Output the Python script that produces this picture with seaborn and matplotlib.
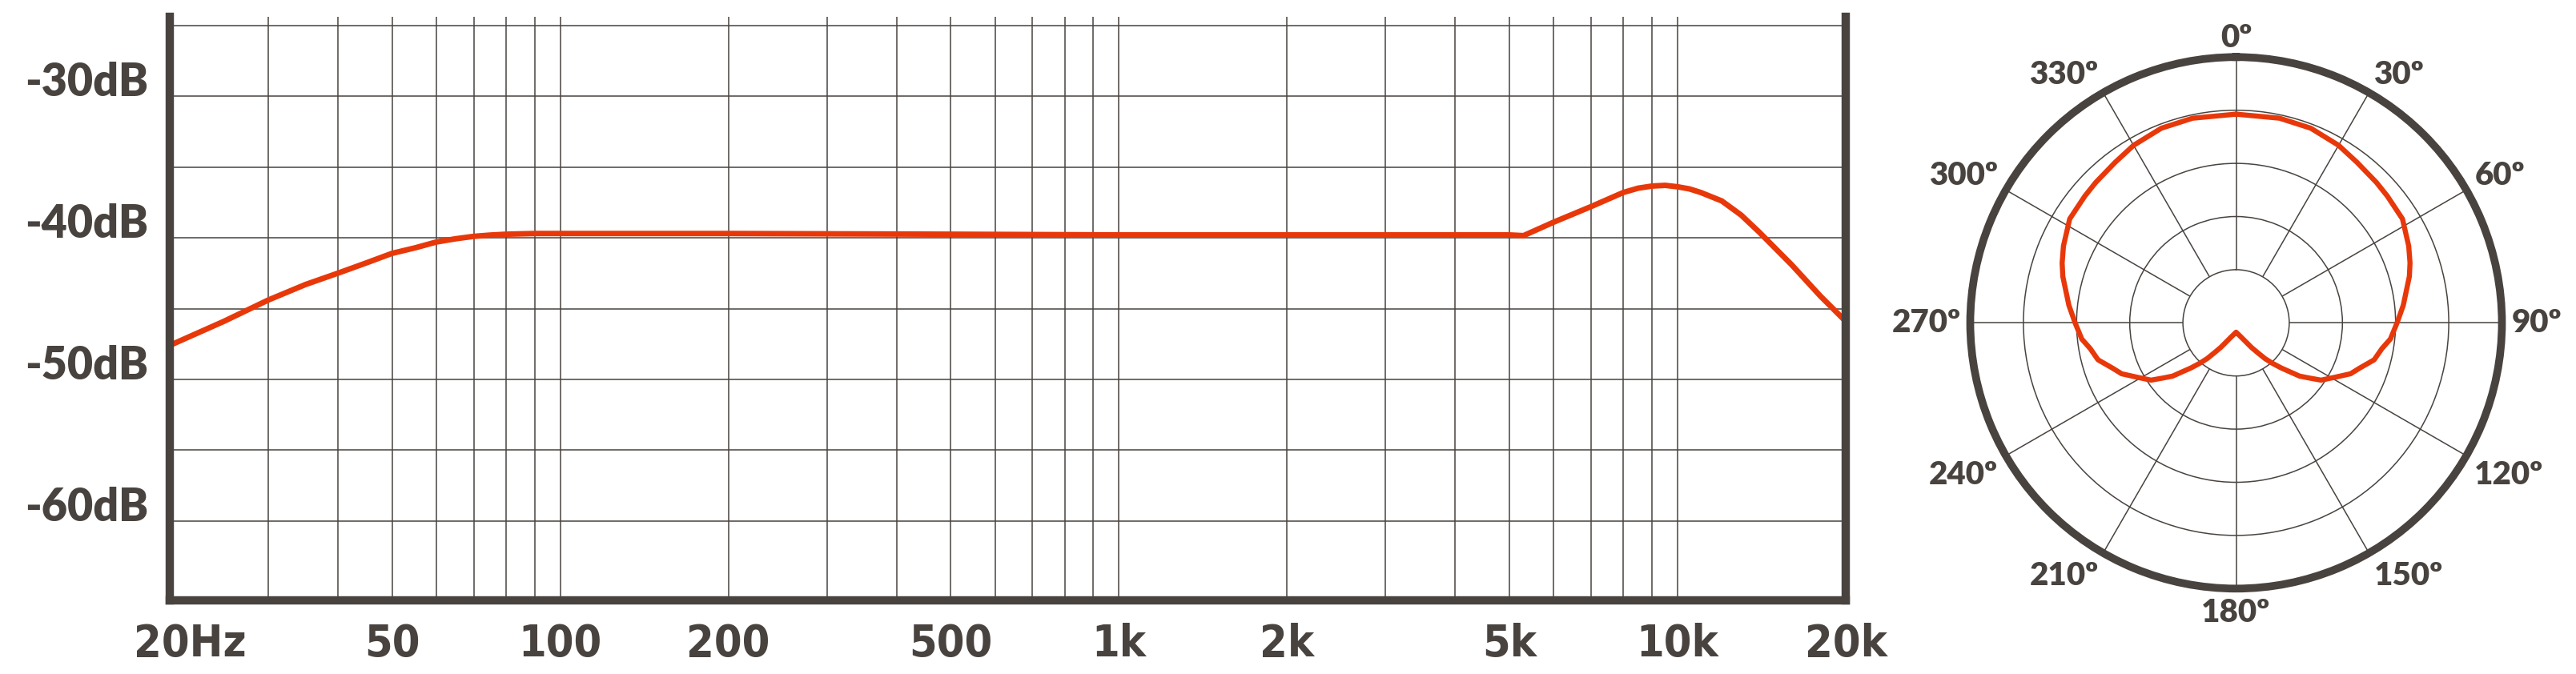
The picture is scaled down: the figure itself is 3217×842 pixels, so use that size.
import numpy as np
import matplotlib
matplotlib.use("Agg")
import matplotlib.pyplot as plt
import matplotlib.ticker as mticker
import matplotlib.transforms as mtransforms
import seaborn as sns

# frequency response (Hz, dB)
freqs = [20, 25, 30, 35, 40, 45, 50, 55, 60, 65, 70, 75, 80, 90, 100, 200, 500,
         1000, 2000, 5000, 5300, 6000, 7000, 8000, 8500, 9000, 9500, 10000,
         10500, 11000, 12000, 13000, 14000, 16000, 18000, 20000]
levels = [-47.6, -45.9, -44.4, -43.3, -42.5, -41.77, -41.1, -40.71, -40.3, -40.07,
          -39.9, -39.81, -39.75, -39.7, -39.7, -39.7, -39.75, -39.8, -39.8, -39.8,
          -39.85, -38.9, -37.8, -36.8, -36.5, -36.35, -36.3, -36.4, -36.55, -36.8,
          -37.4, -38.4, -39.6, -41.9, -44.1, -45.9]

x_tick_freqs = [20, 50, 100, 200, 500, 1000, 2000, 5000, 10000, 20000]
x_tick_labels = ["20Hz", "50", "100", "200", "500", "1k", "2k", "5k", "10k", "20k"]
db_ticks = [-60, -50, -40, -30]
db_labels = ["-60dB", "-50dB", "-40dB", "-30dB"]
db_grid = [-60, -55, -50, -45, -40, -35, -30, -25]

# polar pattern (degrees, dB relative to outer ring)
polar_angles = [0, 12, 21, 30, 37, 45, 50, 58, 66, 71, 75, 84, 90, 96, 100, 105,
                110, 114, 119, 124, 127, 130, 135, 138, 141, 144, 148, 160, 170,
                180, 190, 200, 212, 216, 219, 222, 225, 230, 233, 236, 241, 246,
                250, 255, 260, 264, 270, 276, 285, 289, 294, 302, 310, 315, 323,
                330, 339, 348, 360]
polar_levels = [-5.37, -5.32, -5.39, -5.72, -6.10, -6.33, -6.44, -6.55, -7.23,
                -7.70, -8.13, -9.19, -9.86, -10.41, -11.07, -11.56, -12.6, -13.22,
                -14.42, -15.36, -16.37, -17.20, -19.0, -19.87, -20.66, -21.51,
                -22.27, -23.55, -23.92, -24.12, -23.92, -23.55, -22.27, -21.51,
                -20.66, -19.87, -19.0, -17.20, -16.37, -15.36, -14.42, -13.22,
                -12.6, -11.56, -11.07, -10.41, -9.86, -9.19, -8.13, -7.70, -7.23,
                -6.55, -6.44, -6.33, -6.10, -5.72, -5.39, -5.32, -5.37]
angle_ticks = [0, 30, 60, 90, 120, 150, 180, 210, 240, 270, 300, 330]
ring_levels = [-20, -15, -10, -5]

dark = "#48433f"
red = "#e8380a"

sns.set_theme(style="white")
plt.rcParams["font.family"] = ["Lato", "DejaVu Sans"]

W, H = 3217, 842
fig = plt.figure(figsize=(W / 100, H / 100), dpi=100)

# ---------------- frequency response ----------------
ax = fig.add_axes([212 / W, 92 / H, 2093 / W, 729 / H])
ax.set_xscale("log")
sns.lineplot(x=freqs, y=levels, ax=ax, color=red, linewidth=5.0, zorder=5)
ax.set_xlim(20, 20000)
ax.set_ylim(-65.6, -24.4)
ax.set_xlabel("")
ax.set_ylabel("")

# vertical grid lines: every 1-9 multiple from 30 Hz up to 10 kHz
grid_freqs = [m * 10 ** e for e in range(1, 4) for m in range(1, 10) if m * 10 ** e > 20] + [10000]
ax.set_xticks(x_tick_freqs)
ax.set_xticklabels(x_tick_labels)
ax.set_xticks(grid_freqs, minor=True)
ax.xaxis.set_minor_formatter(mticker.NullFormatter())
ax.xaxis.remove_overlapping_locs = False
ax.set_yticks(db_ticks)
ax.set_yticklabels(db_labels)
ax.set_yticks(db_grid, minor=True)
ax.yaxis.set_minor_formatter(mticker.NullFormatter())
ax.yaxis.remove_overlapping_locs = False

ax.grid(False)
ax.grid(True, which="minor", color=dark, linewidth=1.1)
ax.tick_params(axis="x", which="major", direction="inout", length=21, width=7.9,
               color=dark, pad=9.5, labelcolor=dark)
ax.tick_params(axis="x", which="minor", length=0)
ax.tick_params(axis="y", which="both", length=0, pad=19, labelcolor=dark)

for lab in ax.get_xticklabels():
    lab.set_fontfamily(["DejaVu Sans"])
    lab.set_fontstretch("condensed")
    lab.set_fontweight("bold")
    lab.set_fontsize(40)
for lab in ax.get_yticklabels():
    lab.set_fontweight("heavy")
    lab.set_fontsize(40)
    lab.set_verticalalignment("baseline")

xticks = ax.xaxis.get_major_ticks()
xticks[0].tick1line.set_visible(False)
xticks[-1].tick1line.set_visible(False)
shift = mtransforms.ScaledTranslation(0.25, 0, fig.dpi_scale_trans)
first = ax.get_xticklabels()[0]
first.set_transform(first.get_transform() + shift)

ax.spines["top"].set_visible(False)
for side in ["left", "right", "bottom"]:
    ax.spines[side].set_color(dark)
    ax.spines[side].set_linewidth(7.5)
    ax.spines[side].set_zorder(6)

# ---------------- polar pattern ----------------
R = 332
cx, cy = 2792.5, 403.3
pax = fig.add_axes([(cx - R) / W, (H - cy - R) / H, 2 * R / W, 2 * R / H],
                   projection="polar")
pax.set_theta_zero_location("N")
pax.set_theta_direction(-1)
sns.lineplot(x=np.deg2rad(polar_angles), y=polar_levels, ax=pax, sort=False,
             color=red, linewidth=4.6, zorder=5)
pax.set_rlim(-25, 0)
pax.set_xlabel("")
pax.set_ylabel("")
pax.set_rticks(ring_levels)
pax.set_yticklabels([])
pax.yaxis.grid(True, color=dark, linewidth=1.1)
pax.xaxis.grid(False)
pax.set_xticks(np.deg2rad(angle_ticks))
pax.set_xticklabels([])
pax.tick_params(axis="x", length=0)
# spokes start at the innermost ring
pax.vlines(np.deg2rad(angle_ticks), ring_levels[0], 0, color=dark, linewidth=1.1, zorder=2)

for a in angle_ticks:
    s, c = np.sin(np.deg2rad(a)), np.cos(np.deg2rad(a))
    ha = "center" if abs(s) < 0.1 else ("left" if s > 0 else "right")
    va = "center" if abs(c) < 0.1 else ("baseline" if c > 0 else "top")
    pax.text(np.deg2rad(a), 0.9, f"{a}º", ha=ha, va=va, fontsize=29,
             fontweight="heavy", color=dark, clip_on=False)

pax.spines["polar"].set_color(dark)
pax.spines["polar"].set_linewidth(7.0)

fig.savefig("out.png", dpi=100, facecolor="white")
